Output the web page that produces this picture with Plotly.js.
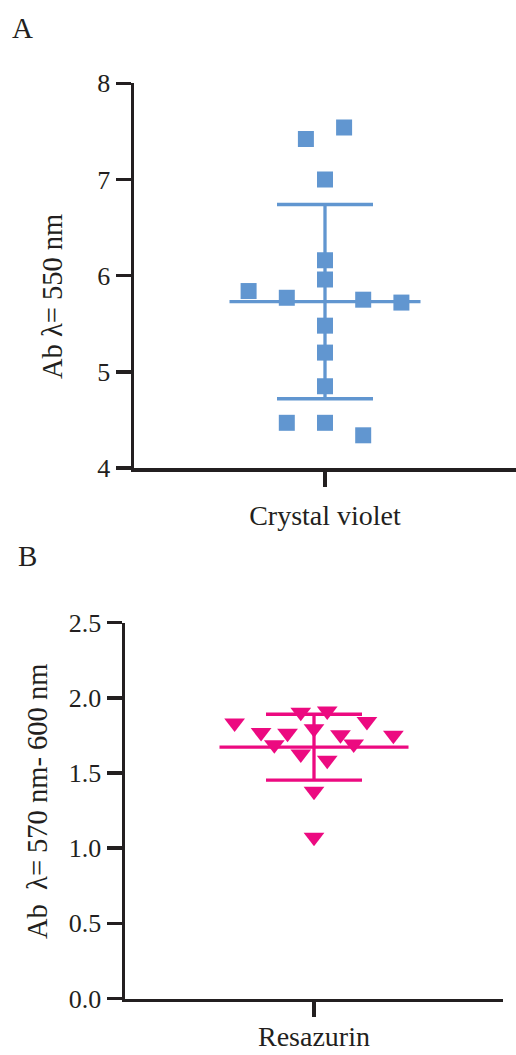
<!DOCTYPE html>
<html><head><meta charset="utf-8">
<script src="https://cdn.plot.ly/plotly-3.0.1.min.js"></script>
<style>html,body{margin:0;padding:0;background:#fff}#chart{width:516px;height:1055px}</style>
</head><body><div id="chart"></div>
<script>
// Panel A: Crystal violet absorbance (550 nm)
const cvCategory = 'Crystal violet';
const cvValues = [7.54, 7.42, 7.00, 6.16, 5.96, 5.84, 5.77, 5.75, 5.72, 5.48, 5.20, 4.85, 4.47, 4.47, 4.34];
const cvJitter = [0.2, -0.2, 0, 0, 0, -0.8, -0.4, 0.4, 0.8, 0, 0, 0, -0.4, 0, 0.4];
const cvMean = [5.73];
const cvSD = [1.01];
const cvTicks = [4, 5, 6, 7, 8];

// Panel B: Resazurin absorbance (570 nm - 600 nm)
const rzCategory = 'Resazurin';
const rzValues = [1.832, 1.769, 1.765, 1.688, 1.905, 1.913, 1.795, 1.754, 1.693, 1.843, 1.751, 1.626, 1.585, 1.379, 1.072];
const rzJitter = [-0.84, -0.56, -0.28, -0.42, -0.14, 0.14, 0, 0.28, 0.42, 0.56, 0.84, -0.14, 0.14, 0, 0];
const rzMean = [1.672];
const rzSD = [0.219];
const rzTicks = [0, 0.5, 1.0, 1.5, 2.0, 2.5];

const W = 516, H = 1055;
const blue = '#6196d0', pink = '#ec0a80', ink = '#231f20';
const FONT = 'Liberation Serif, Times New Roman, serif';

function meanTraces(mean, sd, color, xa, ya) {
  return [
    {x: [-1, 1], y: [mean[0], mean[0]], mode: 'lines', line: {color: color, width: 3.3},
     xaxis: xa, yaxis: ya, hoverinfo: 'skip', showlegend: false},
    {x: [0], y: [mean[0]], mode: 'markers', marker: {size: 0.1, opacity: 0},
     error_y: {type: 'data', array: sd, visible: true, color: color, thickness: 3.3, width: 48},
     xaxis: xa, yaxis: ya, hoverinfo: 'skip', showlegend: false}
  ];
}

const traces = [
  ...meanTraces(cvMean, cvSD, blue, 'x', 'y'),
  {x: cvJitter, y: cvValues, mode: 'markers', xaxis: 'x', yaxis: 'y',
   marker: {symbol: 'square', size: 16, color: blue}, showlegend: false},
  {x: rzJitter, y: rzValues, mode: 'markers', xaxis: 'x2', yaxis: 'y2',
   marker: {symbol: 'triangle-down', size: 18, color: pink}, showlegend: false},
  ...meanTraces(rzMean, rzSD, pink, 'x2', 'y2')
];

const axisCommon = {
  showline: true, linewidth: 3.5, linecolor: ink, showgrid: false, zeroline: false,
  ticks: 'outside', ticklen: 15, tickwidth: 3.5, tickcolor: ink,
  tickfont: {family: FONT, size: 26, color: ink}, fixedrange: true
};
const catFont = {family: FONT, size: 28, color: ink};

const layout = {
  width: W, height: H,
  margin: {l: 0, r: 0, t: 0, b: 0},
  paper_bgcolor: '#fff', plot_bgcolor: '#fff',
  showlegend: false,
  xaxis: Object.assign({}, axisCommon, {domain: [134 / W, 1], range: [-2, 2],
    tickvals: [0], ticktext: [cvCategory], anchor: 'y', ticklabelstandoff: 5, tickfont: catFont}),
  yaxis: Object.assign({}, axisCommon, {domain: [(H - 468) / H, (H - 83.3) / H], range: [4, 8],
    tickvals: cvTicks, ticktext: cvTicks.map(String), anchor: 'x'}),
  xaxis2: Object.assign({}, axisCommon, {domain: [125 / W, 503 / W], range: [-2, 2],
    tickvals: [0], ticktext: [''], anchor: 'y2'}),
  yaxis2: Object.assign({}, axisCommon, {domain: [(H - 998.5) / H, (H - 622.7) / H], range: [0, 2.5],
    tickvals: rzTicks, ticktext: rzTicks.map(v => v.toFixed(1)), anchor: 'x2'}),
  annotations: [
    {text: 'A', x: 22 / W, y: 1 - 28 / H, xref: 'paper', yref: 'paper', showarrow: false,
     xanchor: 'center', yanchor: 'middle', font: {family: FONT, size: 29, color: ink}},
    {text: 'B', x: 27 / W, y: 1 - 556 / H, xref: 'paper', yref: 'paper', showarrow: false,
     xanchor: 'center', yanchor: 'middle', font: {family: FONT, size: 29, color: ink}},
    {text: 'Ab λ= 550 nm', x: 52 / W, y: 1 - 297 / H, xref: 'paper', yref: 'paper', showarrow: false,
     textangle: -90, xanchor: 'center', yanchor: 'middle', font: {family: FONT, size: 28.5, color: ink}},
    {text: 'Ab  λ= 570 nm- 600 nm', x: 37 / W, y: 1 - 802 / H, xref: 'paper', yref: 'paper', showarrow: false,
     textangle: -90, xanchor: 'center', yanchor: 'middle', font: {family: FONT, size: 28.5, color: ink}},
    {text: rzCategory, x: 0, y: 0, xref: 'x2', yref: 'paper', showarrow: false,
     xanchor: 'center', yanchor: 'bottom', yshift: 1, font: catFont}
  ]
};

Plotly.newPlot('chart', traces, layout, {staticPlot: true, displayModeBar: false});
</script>
</body></html>
